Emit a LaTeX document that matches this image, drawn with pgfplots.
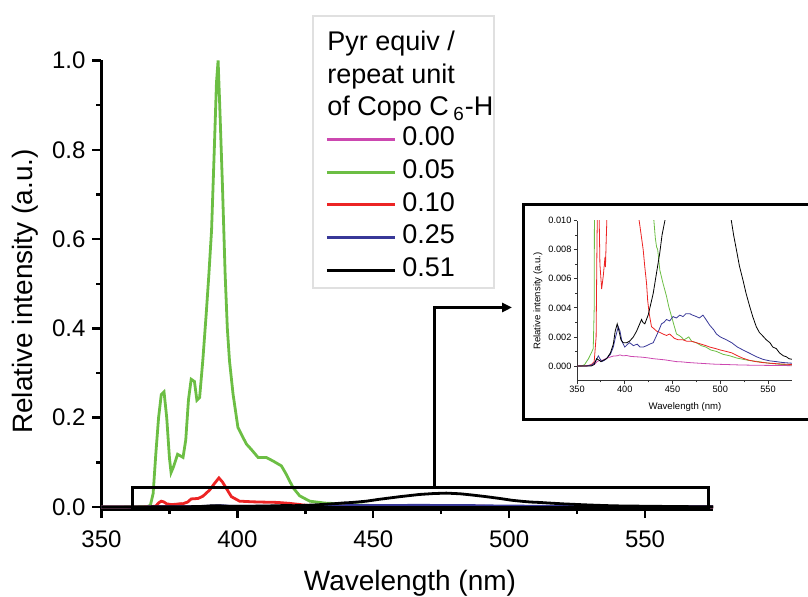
\documentclass[border=0pt]{standalone}
\usepackage{pgfplots}
\pgfplotsset{compat=1.18}
\usepackage{pgfplotstable}
\usepackage{fontspec}
\setmainfont{Liberation Sans}
\usetikzlibrary{arrows.meta}

\definecolor{cMag}{RGB}{204,72,176}
\definecolor{cGrn}{RGB}{108,190,68}
\definecolor{cRed}{RGB}{236,36,36}
\definecolor{cBlu}{RGB}{56,56,152}

% emission spectra, wavelength (nm) vs relative intensity
\pgfplotstableread{
x y
350 0
355 0.00001
360 0.00002
365 0.00005
368 0.0001
371 0.0003
374 0.0004
377 0.0004
380 0.0005
384 0.0006
388 0.00068
392 0.0007
395 0.00076
398 0.0007
402 0.00072
406 0.00066
410 0.00064
415 0.00062
419 0.0006
424 0.00056
430 0.0005
436 0.00046
442 0.00042
448 0.00036
454 0.0003
460 0.00028
466 0.00024
475 0.0002
485 0.00016
495 0.00012
506 0.0001
520 0.00007
535 0.00005
550 0.00004
565 0.00003
575 0.00002
}\tabA

\pgfplotstableread{
x y
350 0
355 0
358 0.0001
362 0.0005
365 0.0009
367 0.0012
368 0.004
369 0.03
370 0.12
371 0.2
372 0.252
373 0.258
374 0.2
375 0.11
375.6 0.077
376.5 0.09
378 0.118
380 0.111
381 0.15
382 0.24
383 0.286
384.2 0.281
385.1 0.239
386.1 0.245
387.3 0.33
388.5 0.43
389.5 0.52
390.5 0.62
391.5 0.8
392.3 0.95
392.9 1.0
393.5 0.9
394.5 0.72
395.5 0.52
396.3 0.4
397.1 0.327
398.4 0.253
400.2 0.178
403.3 0.141
405.1 0.129
407.6 0.111
410.6 0.111
413.1 0.103
416.2 0.092
418 0.073
420.5 0.043
422.9 0.025
426.6 0.013
430.5 0.0100
432 0.0088
433.3 0.0082
434.5 0.0080
436.7 0.0066
440 0.0057
443.7 0.0048
446 0.0041
449 0.0034
452 0.0027
454.2 0.0022
457 0.0021
459 0.0020
462 0.0018
464.6 0.0019
467 0.0020
470 0.0017
475 0.0016
480 0.0014
485 0.0013
490 0.0011
496 0.0010
503 0.0008
510 0.0007
517 0.00055
523.8 0.00046
530 0.00038
540 0.0003
551.7 0.00018
565 0.0001
575 0.00007
}\tabB

\pgfplotstableread{
x y
350 0
360 0
365 0.0001
368 0.0003
370 0.002
371 0.009
372 0.013
373 0.011
374 0.007
375.8 0.0053
377.5 0.0062
379.3 0.0075
379.8 0.0068
380.5 0.0085
381.7 0.011
383 0.018
385.5 0.019
387.3 0.024
389.8 0.038
391.5 0.052
393.2 0.065
394.5 0.056
395.9 0.042
397.8 0.023
400.8 0.013
405.7 0.0115
410 0.0108
413 0.0105
415.1 0.0100
417 0.0091
419.3 0.0080
421 0.0068
422.8 0.0057
424 0.0045
425.6 0.0036
428 0.0027
430 0.0026
433.3 0.0024
437 0.0023
440 0.0022
443.7 0.0021
447 0.0022
452 0.0019
456 0.0018
461 0.0018
465 0.0017
470 0.0017
475 0.0016
480 0.0015
485 0.0014
489 0.0013
495 0.0012
500 0.0011
506.4 0.0010
512 0.0009
518 0.0007
523.8 0.00053
530 0.0004
537 0.0003
544.7 0.00023
560 0.00015
575 0.0001
}\tabC

\pgfplotstableread{
x y
350 0
360 0
365 0.00005
368 0.0002
370 0.0004
372.3 0.0007
374 0.0005
376 0.0003
379 0.0004
382 0.0006
385 0.0008
388 0.0013
390 0.0019
393.2 0.0027
395 0.0024
397 0.0017
400 0.0013
403 0.0015
405.2 0.0016
409 0.0014
413 0.0015
416 0.0013
419.3 0.0013
423 0.0014
426 0.0015
429.8 0.0016
433.3 0.0021
436 0.0025
438.5 0.0029
441 0.0030
443.7 0.0032
447 0.0031
450.6 0.0034
454 0.0033
457.6 0.0035
461 0.0034
464 0.0036
468 0.0036
471 0.0035
475 0.0034
478 0.0033
481.9 0.0035
485 0.0032
489 0.0028
493 0.0025
496 0.0022
500 0.0020
506.4 0.0018
512 0.0016
518 0.0013
523.8 0.0011
530 0.0009
537.7 0.00064
545 0.00045
552 0.00035
558.6 0.0003
565 0.00024
575 0.00019
}\tabD

\pgfplotstableread{
x y
350 0
365 0
368 0.0001
370.6 0.0005
373 0.0004
375 0.0003
378 0.0004
381 0.0005
385 0.0009
388 0.0015
390 0.0024
392.1 0.0029
394 0.0024
396 0.0018
398.4 0.0016
402 0.0016
405 0.0017
409 0.0020
412.4 0.0024
415 0.0028
417.6 0.0032
419 0.0030
421 0.0029
424.5 0.0035
427 0.0042
429.8 0.0050
433 0.0063
436.7 0.0078
439 0.0090
442 0.0100
444 0.0110
447.5 0.0130
452 0.0170
459.7 0.0230
467 0.0280
472 0.0300
476.9 0.0310
482 0.0295
486 0.0270
491 0.0235
496.6 0.0190
501 0.0150
505 0.0125
508 0.0110
511.6 0.0100
514 0.0090
516.9 0.0080
520 0.0069
523.8 0.0059
527 0.0050
530.8 0.0041
534 0.0034
537.7 0.0027
541 0.0023
544 0.0021
548.2 0.0018
552 0.0016
555 0.0013
558.6 0.0012
562 0.0009
566 0.0007
569 0.00064
572 0.0005
575 0.00046
}\tabE

\begin{document}
\begin{tikzpicture}
\path[use as bounding box] (0,0) rectangle (404pt,-298.5pt);

% legend frame and title
\draw[black!12, line width=0.6pt] (156.5pt,-8pt) rectangle (247pt,-144pt);
\node[anchor=north west, align=left, inner sep=0pt,
      font=\fontsize{13.5}{16.25}\selectfont] at (163.5pt,-15.5pt)
  {Pyr equiv /\\repeat unit\\of Copo C\,\textsubscript{6}-H};

\begin{axis}[
    at={(50.75pt,-254.6pt)}, anchor=south west,
    scale only axis, width=305.75pt, height=224.35pt,
    axis lines=left, axis line style={-, line width=1.5pt},
    xmin=350, xmax=575, ymin=-0.005, ymax=1.0,
    xtick={350,400,450,500,550},
    ytick={0,0.2,0.4,0.6,0.8,1.0},
    minor x tick num=1, minor y tick num=1,
    tick align=outside, major tick length=4.5pt, minor tick length=2.5pt,
    tick style={line width=1.2pt, black},
    tick label style={font=\fontsize{12}{14}\selectfont},
    xticklabel style={yshift=-2.5pt},
    yticklabel style={/pgf/number format/.cd, fixed, fixed zerofill, precision=1},
    /pgf/number format/assume math mode=true,
    clip=false,
    xlabel={Wavelength (nm)}, ylabel={Relative intensity (a.u.)},
    every axis x label/.style={at={(axis description cs:0.5045,-0.1645)}, anchor=center,
        font=\fontsize{14}{16}\selectfont},
    every axis y label/.style={at={(axis description cs:-0.1251,0.485)}, rotate=90, anchor=center,
        font=\fontsize{14}{16}\selectfont},
    legend image code/.code={\draw[#1, line width=1.5pt] (0pt,0pt) -- (34pt,0pt);},
    legend style={at={(axis description cs:0.3655,0.853)}, anchor=north west,
        draw=none, fill=none, inner sep=0pt, row sep=3.85pt, column sep=3pt,
        cells={anchor=west},
        nodes={inner sep=0pt, text height=9.5pt, text depth=3pt,
               font=\fontsize{13.5}{16}\selectfont}},
]
\addplot[cMag, line width=1.4pt] table {\tabA}; \addlegendentry{0.00}
\addplot[cGrn, line width=1.4pt] table {\tabB}; \addlegendentry{0.05}
\addplot[cRed, line width=1.4pt] table {\tabC}; \addlegendentry{0.10}
\addplot[cBlu, line width=1.4pt] table {\tabD}; \addlegendentry{0.25}
\addplot[black, line width=1.4pt] table {\tabE}; \addlegendentry{0.51}
\coordinate (zb1) at (axis cs:361.5,-0.002);
\coordinate (zb2) at (axis cs:573.5,0.0425);
\coordinate (cn) at (axis cs:472.7,0.0425);
\end{axis}

\draw[line width=1.5pt] (zb1) rectangle (zb2);
\draw[line width=1.5pt, -{Triangle[length=5pt,width=4.5pt]}] (cn) |- (256pt,-153.75pt);

% inset frame
\draw[line width=1.5pt] (261.5pt,-102.5pt) rectangle (408pt,-210pt);

\begin{axis}[
    at={(288.5pt,-190.25pt)}, anchor=south west,
    scale only axis, width=107.45pt, height=79.9pt,
    axis lines=left, axis line style={-, line width=0.4pt, black!80},
    xmin=350, xmax=575, ymin=-0.001, ymax=0.010,
    xtick={350,400,450,500,550},
    ytick={0,0.002,0.004,0.006,0.008,0.010},
    minor x tick num=1, minor y tick num=1,
    tick align=outside, major tick length=1.6pt, minor tick length=1pt,
    tick style={line width=0.4pt, black!80},
    tick label style={font=\fontsize{4.6}{5.2}\selectfont, inner sep=1pt},
    yticklabel style={/pgf/number format/.cd, fixed, fixed zerofill, precision=3},
    scaled y ticks=false,
    /pgf/number format/assume math mode=true,
    clip=true,
    xlabel={Wavelength (nm)}, ylabel={Relative intensity (a.u.)},
    every axis x label/.style={at={(axis description cs:0.5026,-0.164)}, anchor=center,
        font=\fontsize{4.8}{5.5}\selectfont},
    every axis y label/.style={at={(axis description cs:-0.1815,0.497)}, rotate=90, anchor=center,
        font=\fontsize{4.8}{5.5}\selectfont},
]
\addplot[cMag, line width=0.4pt] table {\tabA};
\addplot[cGrn, line width=0.4pt] table {\tabB};
\addplot[cRed, line width=0.4pt] table {\tabC};
\addplot[cBlu, line width=0.4pt] table {\tabD};
\addplot[black, line width=0.4pt] table {\tabE};
\end{axis}
\end{tikzpicture}
\end{document}
